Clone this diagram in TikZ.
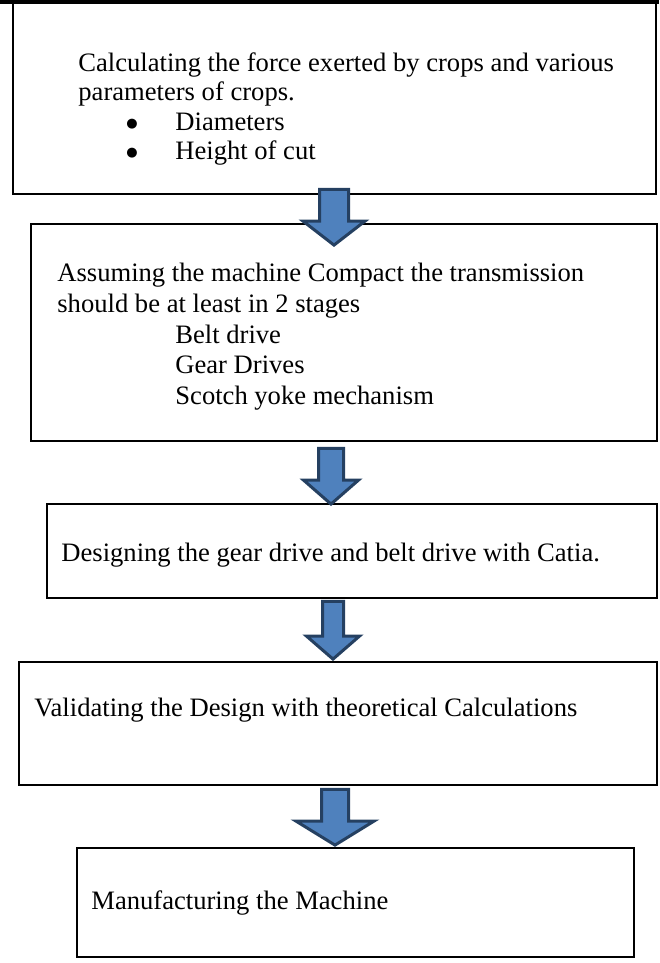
\documentclass[tikz,border=0pt]{standalone}
\usepackage{fontspec}
\setmainfont{Liberation Serif}
\newfontfamily\symfont{DejaVu Sans}
\usetikzlibrary{calc, fit}
\definecolor{arrowblue}{HTML}{4F81BD}
\definecolor{arrowedge}{HTML}{254061}
\tikzset{
    stepbox/.style={rectangle, draw, line width=0.9pt, inner sep=0pt},
    steptext/.style={anchor=north west, inner sep=0pt, align=left, font=\fontsize{13.3}{14.75}\selectfont},
    flowarrow/.style={fill=arrowblue, draw=arrowedge, line width=1.5pt, line join=miter}
}
\newcommand{\bulletmark}{\makebox[24.5pt][l]{\raisebox{1.5pt}{\symfont\fontsize{6.5}{6.5}\selectfont ●}}}
% from, to, x, tail shift, tip shift, half shaft, half head, head length
\newcommand{\blockarrow}[8]{%
    \coordinate (tail) at ($(#1.south -| #3,0)+(0,#4)$);
    \coordinate (tip) at ($(#2.north -| #3,0)+(0,#5)$);
    \filldraw[flowarrow] ($(tail)+(-#6,0)$) -- ($(tail)+(#6,0)$) -- ($(tip)+(#6,-#8)$) -- ($(tip)+(#7,-#8)$)
        -- (tip) -- ($(tip)+(-#7,-#8)$) -- ($(tip)+(-#6,-#8)$) -- cycle;}

\begin{document}
\begin{tikzpicture}[x=0.5pt, y=-0.5pt]
    \useasboundingbox (0,0) rectangle (659,963);
    \fill (0,0) rectangle (659,4.5);

    % boxes
    \node (force) [stepbox, fit={(13,3) (656,194)}] {};
    \node (transmit) [stepbox, fit={(31,224) (657,441)}] {};
    \node (design) [stepbox, fit={(47,504) (657,598)}] {};
    \node (validate) [stepbox, fit={(19,662) (657,785)}] {};
    \node (manufacture) [stepbox, fit={(77,848) (634,957)}] {};

    % texts
    \node (forcetext) [steptext] at (78,52) {Calculating the force exerted by crops and various\\
        parameters of crops.\\
        \hspace*{24pt}\bulletmark Diameters\\
        \hspace*{24pt}\bulletmark Height of cut};
    \node (transmittext) [steptext, font=\fontsize{13.3}{15.3}\selectfont] at (57,263) {Assuming the machine Compact the transmission\\
        should be at least in 2 stages\\
        \hspace*{59pt}Belt drive\\
        \hspace*{59pt}Gear Drives\\
        \hspace*{59pt}Scotch yoke mechanism};
    \node (designtext) [steptext] at (61,543) {Designing the gear drive and belt drive with Catia.};
    \node (validatetext) [steptext] at (34,698) {Validating the Design with theoretical Calculations};
    \node (manufacturetext) [steptext] at (91,890) {Manufacturing the Machine};

    % arrows
    \blockarrow{force}{transmit}{334}{-5.5}{22}{14.5}{31}{24}
    \blockarrow{transmit}{design}{331}{6.5}{1}{12.5}{27.5}{24}
    \blockarrow{design}{validate}{333}{2.5}{-2}{10.5}{26.5}{23}
    \blockarrow{validate}{manufacture}{335}{3.5}{-2}{13.5}{39}{24}
\end{tikzpicture}
\end{document}
